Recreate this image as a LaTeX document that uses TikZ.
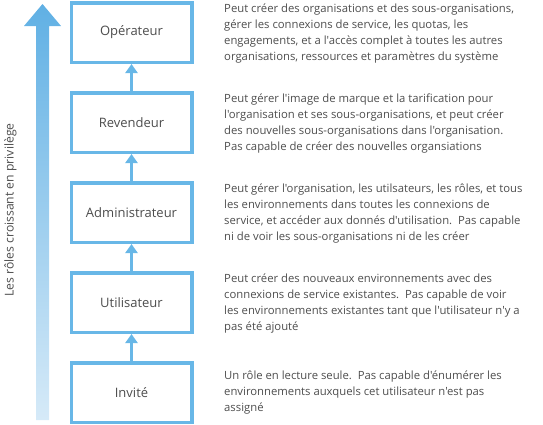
\documentclass[tikz,border=0pt]{standalone}
\usepackage{fontspec}
\setmainfont{Open Sans}[Ligatures=TeXOff]
\usetikzlibrary{arrows.meta}
\definecolor{boxblue}{RGB}{104,183,231}
\definecolor{toparrow}{RGB}{96,176,228}
\definecolor{botarrow}{RGB}{214,234,248}
\definecolor{txt}{RGB}{77,77,77}
\tikzset{
  rolebox/.style={draw=boxblue, line width=3.5pt, fill=white, minimum width=120.5pt, minimum height=59.5pt, inner sep=0pt, font=\fontsize{13}{16}\selectfont, text=txt},
  desc/.style={anchor=west, align=left, inner sep=0pt, font=\fontsize{11.3}{16}\selectfont, text=txt},
  uparr/.style={draw=boxblue, line width=3.5pt, -{Triangle[width=12pt,length=9pt]}}
}
\begin{document}
\begin{tikzpicture}[x=1pt,y=-1pt]
\useasboundingbox (0,0) rectangle (543,424);
% big gradient arrow
\shade[top color=toparrow, bottom color=botarrow]
  (36,420) -- (36,26) -- (24,26) -- (42.5,4) -- (61,26) -- (49,26) -- (49,420) -- cycle;
\node[rotate=90, font=\fontsize{12.2}{14}\selectfont, text=txt] (lbl) at (10.5,210) {Les rôles croissant en privilège};
% boxes
\node[rolebox] (b1) at (131.5,32.5) {Opérateur};
\node[rolebox] (b2) at (131.5,122.5) {Revendeur};
\node[rolebox] (b3) at (131.5,212.5) {Administrateur};
\node[rolebox] (b4) at (131.5,302.5) {Utilisateur};
\node[rolebox] (b5) at (131.5,392.5) {Invité};
% arrows
\draw[uparr] (b5.north) -- (b4.south);
\draw[uparr] (b4.north) -- (b3.south);
\draw[uparr] (b3.north) -- (b2.south);
\draw[uparr] (b2.north) -- (b1.south);
% descriptions
\node[desc] (d1) at (224,34) {Peut créer des organisations et des sous-organisations,\\gérer les connexions de service, les quotas, les\\engagements, et a l'accès complet à toutes les autres\\organisations, ressources et paramètres du système};
\node[desc] (d2) at (224,124) {Peut gérer l'image de marque et la tarification pour\\l'organisation et ses sous-organisations, et peut créer\\des nouvelles sous-organisations dans l'organisation.\\Pas capable de créer des nouvelles organsiations};
\node[desc] (d3) at (224,214) {Peut gérer l'organisation, les utilsateurs, les rôles, et tous\\les environnements dans toutes les connexions de\\service, et accéder aux donnés d'utilisation.\ \ Pas capable\\ni de voir les sous-organisations ni de les créer};
\node[desc] (d4) at (224,304) {Peut créer des nouveaux environnements avec des\\connexions de service existantes.\ \ Pas capable de voir\\les environnements existantes tant que l'utilisateur n'y a\\pas été ajouté};
\node[desc] (d5) at (224,393) {Un rôle en lecture seule.\ \ Pas capable d'énumérer les\\environnements auxquels cet utilisateur n'est pas\\assigné};
\end{tikzpicture}
\end{document}
